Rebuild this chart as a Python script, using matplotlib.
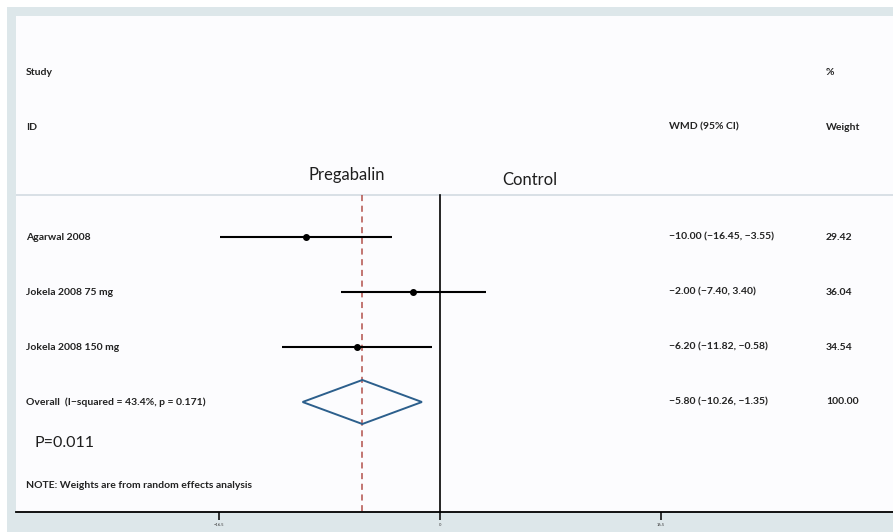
"""Forest plot: pregabalin vs control"""
import numpy as np
import matplotlib
matplotlib.use("Agg")
import matplotlib.pyplot as plt
from matplotlib.patches import Rectangle, Polygon

studies = ["Agarwal 2008", "Jokela 2008 75 mg", "Jokela 2008 150 mg"]
wmd = [-10.00, -2.00, -6.20]
ci_low = [-16.45, -7.40, -11.82]
ci_high = [-3.55, 3.40, -0.58]
weights = ["29.42", "36.04", "34.54"]

overall_label = "Overall  (I\u2212squared = 43.4%, p = 0.171)"
overall_wmd = -5.80
overall_low = -10.26
overall_high = -1.35
overall_weight = "100.00"

xticks = [-16.5, 0, 16.5]
xtick_labels = ["\u221216.5", "0", "16.5"]


def fmt(v):
    s = "%.2f" % v
    return s.replace("-", "\u2212")


plt.rcParams['font.family'] = ['Lato', 'DejaVu Sans']

fig = plt.figure(figsize=(8.93, 5.32), dpi=100)
fig.patch.set_facecolor("white")
W, H = 893.0, 532.0

# grey frame round the panel
fig.patches.append(Rectangle((7 / W, 0), 1, 1 - 7 / H, transform=fig.transFigure,
                             facecolor="#dde7ea", edgecolor="none", zorder=-5))

ax = fig.add_axes([16 / W, (H - 512) / H, (W - 16) / W, (512 - 16) / H])
ax.set_zorder(1)
ax.set_facecolor("#fcfcfe")

px = 221 / 16.5  # pixels per unit
ax.set_xlim((16 - 440) / px, (893 - 440) / px)
ax.set_ylim((512 - 237) / 55, (16 - 237) / 55)

n = len(studies)
rows = np.arange(n)
sep_y = (195 - 237) / 55

# reference lines
ax.plot([0, 0], [sep_y, ax.get_ylim()[0]], color="black", lw=1.2, zorder=2)
ax.plot([overall_wmd, overall_wmd], [sep_y, ax.get_ylim()[0]], color="#b2504a",
        lw=1.1, ls=(0, (4, 3)), zorder=2)
ax.axhline(sep_y, color="#d3dbe2", lw=1.2, zorder=1)

# study CIs and points
ax.hlines(rows, ci_low, ci_high, color="black", lw=1.5, zorder=3)
ax.plot(wmd, rows, "o", color="black", ms=4, zorder=4)

# pooled diamond
oy = n
dh = 0.4
diamond = Polygon([[overall_low, oy], [overall_wmd, oy - dh], [overall_high, oy],
                   [overall_wmd, oy + dh]], closed=True, facecolor="none",
                  edgecolor="#2c5f8c", lw=1.4, zorder=4)
ax.add_patch(diamond)

# axis
for s in ["top", "left", "right"]:
    ax.spines[s].set_visible(False)
ax.spines["bottom"].set_linewidth(1.3)
ax.set_yticks([])
ax.set_xticks(xticks)
ax.set_xticklabels(xtick_labels, fontsize=3, color="#333333")
ax.tick_params(axis="x", length=6, width=1.1, pad=2)

# text columns
xl = (26 - 440) / px
xw = (669 - 440) / px
xp = (826 - 440) / px
kw = dict(fontsize=7.5, fontweight="bold", color="#222222", va="center")

ax.text(xl, (72 - 237) / 55, "Study", **kw)
ax.text(xl, (127 - 237) / 55, "ID", **kw)
ax.text(xp, (72 - 237) / 55, "%", **kw)
ax.text(xw, (127 - 237) / 55, "WMD (95% CI)", **kw)
ax.text(xp, (127 - 237) / 55, "Weight", **kw)

for i in range(n):
    ax.text(xl, rows[i], studies[i], **kw)
    ax.text(xw, rows[i], "%s (%s, %s)" % (fmt(wmd[i]), fmt(ci_low[i]), fmt(ci_high[i])), **kw)
    ax.text(xp, rows[i], weights[i], **kw)

ax.text(xl, oy, overall_label, **kw)
ax.text(xw, oy, "%s (%s, %s)" % (fmt(overall_wmd), fmt(overall_low), fmt(overall_high)), **kw)
ax.text(xp, oy, overall_weight, **kw)

ax.text((35 - 440) / px, (443 - 237) / 55, "P=0.011", fontsize=11.5, color="#1e1e1e", va="center")
ax.text(xl, (485 - 237) / 55, "NOTE: Weights are from random effects analysis", **kw)

ax.text((308 - 440) / px, (175 - 237) / 55, "Pregabalin", fontsize=12, color="#1e1e1e",
        va="center")
ax.text((502 - 440) / px, (180 - 237) / 55, "Control", fontsize=12, color="#1e1e1e",
        va="center")

fig.savefig("out.png", dpi=100, facecolor=fig.get_facecolor())
